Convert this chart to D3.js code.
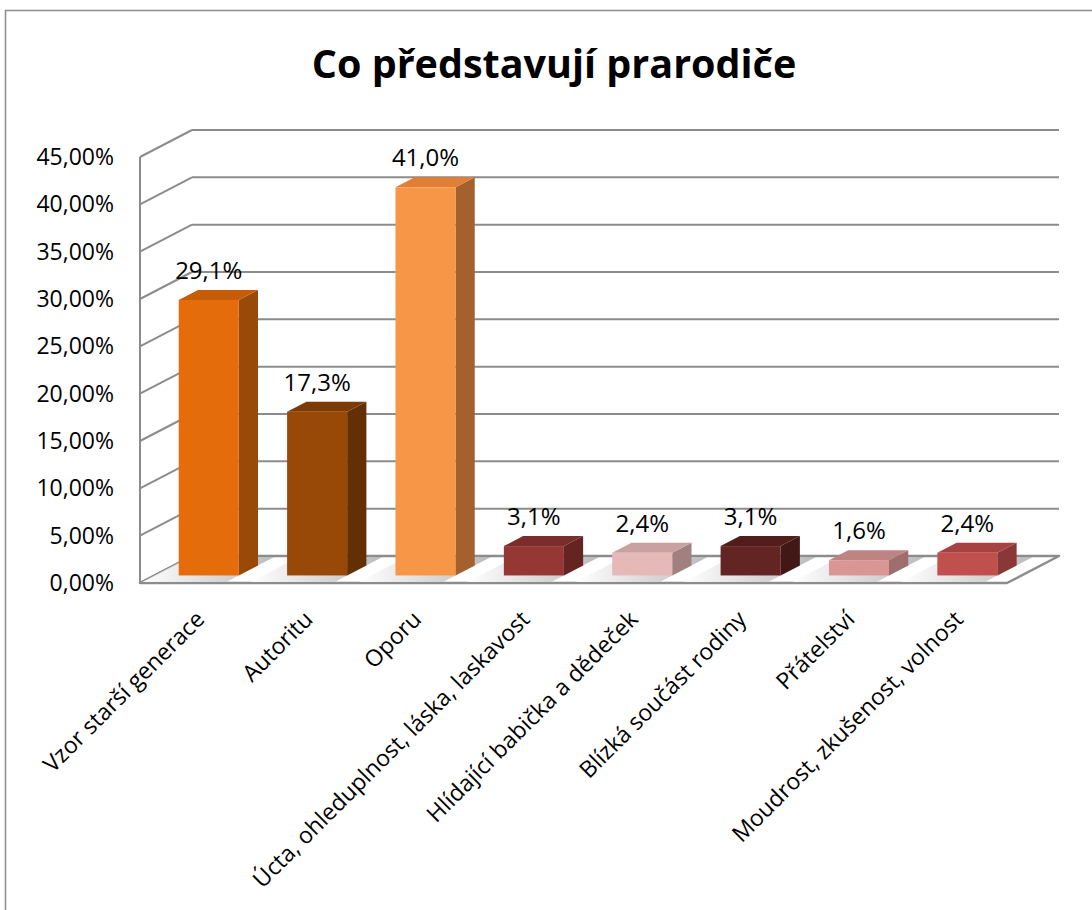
<!DOCTYPE html>
<html>
<head>
<meta charset="utf-8">
<script src="https://cdn.jsdelivr.net/npm/d3@7"></script>
<style>
  body { margin:0; background:#fff; }
  text { font-family: "Open Sans", "Noto Sans", sans-serif; fill:#000; }
</style>
</head>
<body>
<div id="chart"></div>
<script>
// categories + values (shares)
const categories = [
  "Vzor starší generace", "Autoritu", "Oporu",
  "Úcta, ohleduplnost, láska, laskavost", "Hlídající babička a dědeček",
  "Blízká součást rodiny", "Přátelství", "Moudrost, zkušenost, volnost"
];
const values = [0.291, 0.173, 0.410, 0.031, 0.024, 0.031, 0.016, 0.024];
const yTicks = [0, 0.05, 0.10, 0.15, 0.20, 0.25, 0.30, 0.35, 0.40, 0.45];
const title = "Co představují prarodiče";

// palette: front / side / top for each bar
const frontCol = ["#e46c0a","#984807","#f79646","#953735","#e6b9b8","#632523","#d99694","#c0504d"];
const sideCol  = ["#9a4a08","#623004","#a5612d","#632422","#a08180","#421817","#9d6e6d","#8a3735"];
const topCol   = ["#c75c08","#7c3b06","#e07f35","#7b2d2b","#c9a1a0","#521e1c","#bf8382","#a64341"];

const W = 1092, H = 910;
const DX = 52, DY = -27;          // depth of the whole plot box
const bd0 = 0.28, bd1 = 0.65;     // where the bars sit in depth

const cz = d3.formatLocale({decimal:",", thousands:" ", grouping:[3], currency:["","€"]});
const fTick = cz.format(".2%"), fLab = cz.format(".1%");

const svg = d3.select("#chart").append("svg").attr("width", W).attr("height", H);

const x = d3.scaleBand().domain(categories).range([140, 1007]).paddingInner(0.446).paddingOuter(0.223);
const y = d3.scaleLinear().domain([0, 0.45]).range([583, 157]);
const bw = x.bandwidth();

// point in the box: x, value, depth 0..1
const P = (px, v, d) => [px + DX*d, y(v) + DY*d];
const poly = pts => pts.map(p => p.join(",")).join(" ");

// chart frame
svg.append("rect").attr("x", 5.5).attr("y", 10.5).attr("width", 1200).attr("height", 1000)
  .attr("fill", "none").attr("stroke", "#8c8c8c").attr("stroke-width", 1.5);

svg.append("text").attr("x", 554).attr("y", 78).attr("text-anchor", "middle")
  .style("font-size", "39.5px").style("font-weight", 700).text(title);

const defs = svg.append("defs");
const sg = defs.append("linearGradient").attr("id", "shadow").attr("x1", 0).attr("x2", 1).attr("y1", 0).attr("y2", 0);
sg.append("stop").attr("offset", 0).attr("stop-color", "#ffffff");
sg.append("stop").attr("offset", 1).attr("stop-color", "#b3b3b3");

// walls: side wall diagonals + back wall lines
const grid = svg.append("g").attr("stroke", "#8c8c8c").attr("stroke-width", 2).attr("fill", "none");
grid.selectAll(".side").data(yTicks).enter().append("line")
  .attr("x1", 140).attr("y1", d => y(d))
  .attr("x2", d => P(140, d, 1)[0]).attr("y2", d => P(140, d, 1)[1]);
grid.selectAll(".back").data(yTicks).enter().append("line")
  .attr("x1", d => P(140, d, 1)[0]).attr("y1", d => P(140, d, 1)[1])
  .attr("x2", d => P(1007, d, 1)[0]).attr("y2", d => P(1007, d, 1)[1]);
grid.append("line").attr("x1", 140).attr("x2", 140).attr("y1", y(0)).attr("y2", y(0.45));

// y tick labels through the axis generator
const gy = svg.append("g").attr("transform", "translate(114,0)")
  .call(d3.axisLeft(y).tickValues(yTicks).tickFormat(fTick).tickSize(0).tickPadding(0));
gy.select(".domain").remove();
gy.selectAll("text").style("font-size", "23px").style("font-family", "'Open Sans', sans-serif").attr("fill", "#000");

// floor
svg.append("polygon")
  .attr("points", poly([P(140,0,0), P(1007,0,0), P(1007,0,1), P(140,0,1)]))
  .attr("fill", "#fff").attr("stroke", "#8c8c8c").attr("stroke-width", 2.5).attr("stroke-linejoin", "round");

// soft shadows on the floor to the left of every bar
svg.append("g").selectAll("polygon").data(categories).enter().append("polygon")
  .attr("points", d => {
    const a = x(d);
    return poly([P(a-24,0,0.04), P(a+bw,0,0.04), P(a+bw,0,0.96), P(a-24,0,0.96)]);
  })
  .attr("fill", "url(#shadow)").attr("opacity", 0.9);

// bars
const bars = svg.append("g").selectAll("g").data(categories).enter().append("g");
bars.append("polygon") // side
  .attr("points", (d,i) => { const r = x(d)+bw, v = values[i];
    return poly([P(r,v,bd0), P(r,v,bd1), P(r,0,bd1), P(r,0,bd0)]); })
  .attr("fill", (d,i) => sideCol[i]);
bars.append("polygon") // top
  .attr("points", (d,i) => { const l = x(d), r = l+bw, v = values[i];
    return poly([P(l,v,bd0), P(r,v,bd0), P(r,v,bd1), P(l,v,bd1)]); })
  .attr("fill", (d,i) => topCol[i]);
bars.append("rect") // front
  .attr("x", d => P(x(d),0,bd0)[0])
  .attr("y", (d,i) => P(0,values[i],bd0)[1])
  .attr("width", bw)
  .attr("height", (d,i) => y(0) - y(values[i]))
  .attr("fill", (d,i) => frontCol[i]);

// value labels
svg.append("g").selectAll("text").data(categories).enter().append("text")
  .attr("x", d => P(x(d) + bw/2, 0, bd0)[0])
  .attr("y", (d,i) => P(0, values[i], bd1)[1] - 11)
  .attr("text-anchor", "middle").style("font-size", "24px")
  .text((d,i) => fLab(values[i]));

// category labels, tilted
svg.append("g").selectAll("text").data(categories).enter().append("text")
  .attr("transform", d => `translate(${x(d) + bw/2 + 6},615) rotate(-45)`)
  .attr("text-anchor", "end").attr("dy", "0.35em").style("font-size", "23px")
  .text(d => d);
</script>
</body>
</html>
